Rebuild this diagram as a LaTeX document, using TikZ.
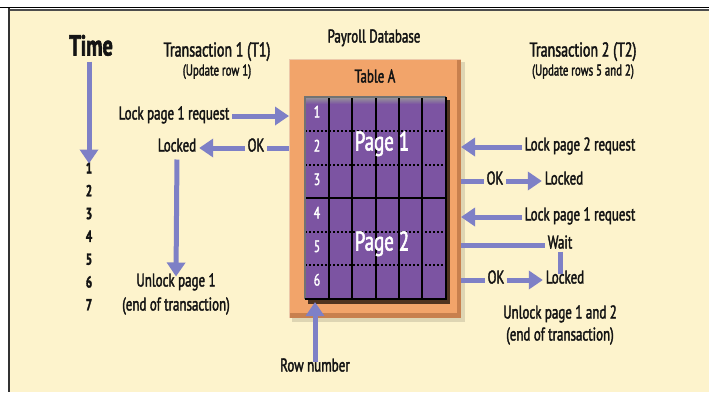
\documentclass[tikz,border=0pt]{standalone}
\usepackage{fontspec}
\setmainfont[FakeStretch=0.70, FakeBold=2]{PT Sans}
\usetikzlibrary{arrows.meta}

\definecolor{cream}{RGB}{253,243,204}
\definecolor{orangeA}{RGB}{242,164,106}
\definecolor{orangeD}{RGB}{200,128,78}
\definecolor{orangeL}{RGB}{236,200,170}
\definecolor{purpleA}{RGB}{124,84,162}
\definecolor{arrowC}{RGB}{126,128,198}
\definecolor{inkC}{RGB}{20,20,20}

\tikzset{
  lbl/.style={font=\fontsize{18.5}{20}\selectfont, text=inkC, inner sep=0pt, outer sep=3pt,
              text height=0.7em, text depth=0pt},
  sublbl/.style={lbl, font=\fontsize{15.5}{17}\selectfont},
  titlelbl/.style={lbl, font=\fontsize{20}{22}\selectfont},
  numlbl/.style={lbl, font=\bfseries\fontsize{16}{18}\selectfont},
  rowlbl/.style={lbl, text=white, font=\fontsize{16.5}{18}\selectfont},
  pagelbl/.style={lbl, text=white, font=\fontsize{27}{29}\selectfont},
  flow/.style={draw=arrowC, line width=5pt, -{Triangle[length=14pt,width=18pt]}},
  bar/.style={draw=arrowC, line width=5pt},
  gridline/.style={draw=black, line width=1.3pt},
  dotline/.style={draw=black, line width=1.3pt, dash pattern=on 2pt off 2pt}
}

\begin{document}
\begin{tikzpicture}[x=1pt,y=-1pt]
\useasboundingbox (0,0) rectangle (709,392);
\fill[white] (0,0) rectangle (709,392);
\fill[cream] (9,9) rectangle (709,392);
\draw[black, line width=1.6pt] (0,7.5) -- (709,7.5);
\draw[black!70, line width=1.2pt] (9,10) -- (709,10);
\draw[black!80, line width=1.6pt] (9,8) -- (9,392);

% ---- Table A box ----
\fill[black, opacity=0.12] (292,62) rectangle (465,322);
\node[fill=orangeD, minimum width=172pt, minimum height=259pt, inner sep=0pt, outer sep=0pt]
  (tbl) at (375,188.5) {};
\fill[orangeA] (289,59) rectangle (457,313);
\draw[orangeL, line width=1pt] (289.5,318) -- (289.5,59.5) -- (461,59.5);

% ---- page grid ----
\fill[black!60!orangeD] (308,100) rectangle (450,304);
\node[fill=purpleA, minimum width=141pt, minimum height=202pt, inner sep=0pt, outer sep=0pt]
  (grid) at (375.5,198) {};
\shade[top color=black!40, bottom color=purpleA] (305,97) rectangle (446,104);
\foreach \gx in {329,352,376,399,422} \draw[gridline] (\gx,97) -- (\gx,299);
\foreach \gy in {131,165,232,265} \draw[dotline] (305,\gy) -- (446,\gy);
\draw[gridline, line width=1.6pt] (305,198) -- (446,198);
\draw[black!55, line width=1.2pt] (305,299) -- (305,97) -- (446,97);
\draw[black, line width=1.8pt] (305,299) -- (446,299) -- (446,97);

\foreach \r/\ry in {1/114,2/148,3/181.5,4/215,5/248.5,6/282}
  \node[rowlbl] (row\r) at (317,\ry) {\r};
\node[pagelbl] (page1) at (382,147) {Page 1};
\node[pagelbl] (page2) at (382,247) {Page 2};

% ---- headings ----
\node[lbl] (db) at (374,39) {Payroll Database};
\node[lbl] (tblA) at (375,79) {Table A};
\node[lbl, font=\bfseries\fontsize{29}{31}\selectfont] (time) at (91,52) {Time};
\node[titlelbl] (t1) at (217,53) {Transaction 1 (T1)};
\node[sublbl] (t1sub) at (217,72) {(Update row 1)};
\node[titlelbl] (t2) at (583,53) {Transaction 2 (T2)};
\node[sublbl] (t2sub) at (583,72) {(Update rows 5 and 2)};

% ---- time axis ----
\foreach \n/\ny in {1/170,2/192.8,3/215.6,4/238.4,5/261.2,6/284,7/306.8}
  \node[numlbl] (n\n) at (89,\ny) {\n};
\draw[flow, shorten <=3pt] (time.south -| n1) -- (n1.north);

% ---- transaction 1 ----
\node[lbl] (req1) at (174,116) {Lock page 1 request};
\node[lbl] (ok1) at (256,148) {OK};
\node[lbl] (lock1) at (177,148) {Locked};
\node[lbl] (unl1) at (176,283) {Unlock page 1};
\node[lbl] (end1) at (176,307) {(end of transaction)};
\draw[flow] (req1.east) -- (req1.east -| tbl.west);
\draw[bar] (ok1.east -| tbl.west) -- (ok1.east);
\draw[flow] (ok1.west) -- (lock1.east);
\draw[flow, shorten <=5pt] (lock1.south) -- (unl1.north);

% ---- transaction 2 ----
\node[lbl] (req2) at (580,147) {Lock page 2 request};
\node[lbl] (ok2) at (495,181) {OK};
\node[lbl] (lock2) at (564,181) {Locked};
\node[lbl] (req3) at (580,217) {Lock page 1 request};
\node[lbl] (wait) at (560,245) {Wait};
\node[lbl] (ok3) at (496,280) {OK};
\node[lbl] (lock3) at (565,280) {Locked};
\node[lbl] (unl2) at (560,315) {Unlock page 1 and 2};
\node[lbl] (end2) at (560,337) {(end of transaction)};
\draw[flow] (req2.west) -- (req2.west -| tbl.east);
\draw[bar] (ok2.west -| tbl.east) -- (ok2.west);
\draw[flow] (ok2.east) -- (lock2.west);
\draw[flow] (req3.west) -- (req3.west -| tbl.east);
\draw[bar] (wait.west -| tbl.east) -- (wait.west);
\draw[bar] (wait.south) -- (lock3.north -| wait.south);
\draw[bar] (ok3.west -| tbl.east) -- (ok3.west);
\draw[flow] (ok3.east) -- (lock3.west);

% ---- row number pointer ----
\node[lbl] (rownum) at (315,368) {Row number};
\coordinate (rowtip) at (315,302);
\draw[flow] (rownum.north) -- (rowtip);
\end{tikzpicture}
\end{document}
